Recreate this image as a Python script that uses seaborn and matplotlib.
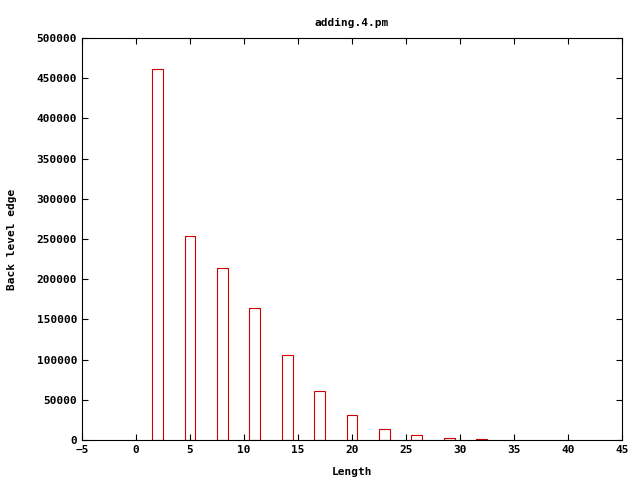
import matplotlib
matplotlib.use('Agg')
import matplotlib.pyplot as plt
import pandas as pd
import seaborn as sns

# 数据
lengths = [2, 5, 8, 11, 14, 17, 20, 23, 26, 29, 32]
counts = [461500, 253700, 214000, 164000, 105700, 61000, 31000, 13700, 6200, 2500, 1000]

sns.set_style('ticks')
plt.rcParams['font.family'] = ['DejaVu Sans Mono']
plt.rcParams['font.weight'] = 'bold'
plt.rcParams['font.size'] = 8
plt.rcParams['text.color'] = 'black'
plt.rcParams['axes.labelcolor'] = 'black'
plt.rcParams['xtick.color'] = 'black'
plt.rcParams['ytick.color'] = 'black'

df = pd.DataFrame({'Length': lengths, 'count': counts})

fig = plt.figure(figsize=(6.4, 4.8), dpi=100)
ax = fig.add_axes([82/640, 40/480, 540/640, 402/480])

sns.barplot(data=df, x='Length', y='count', native_scale=True, width=1/3,
            fill=False, color='#cc0000', linewidth=0.8, errorbar=None, ax=ax)

ax.set_xlim(-5, 45)
ax.set_ylim(0, 500000)
ax.set_xticks(range(-5, 46, 5))
ax.set_yticks(range(0, 500001, 50000))
ax.tick_params(direction='in', top=True, right=True, length=4, width=0.8, labelsize=8)
for s in ax.spines.values():
    s.set_visible(True)
    s.set_linewidth(0.8)
    s.set_color('black')
ax.set_title('adding.4.pm', fontsize=8, fontweight='bold', pad=9)
ax.set_xlabel('Length', fontsize=8, fontweight='bold', labelpad=9)
ax.set_ylabel('Back level edge', fontsize=8, fontweight='bold', labelpad=14)
ax.ticklabel_format(style='plain', axis='y')

fig.savefig('out.png', dpi=100)
